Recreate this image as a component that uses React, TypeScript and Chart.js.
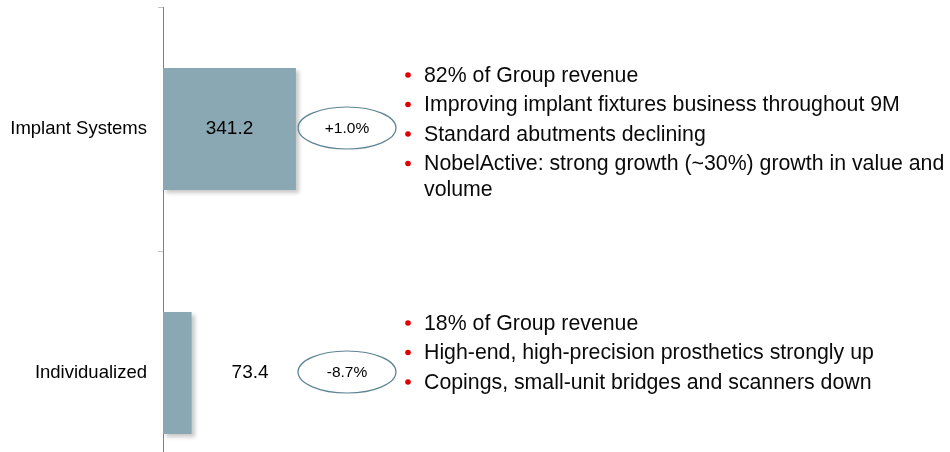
import React, { useEffect, useRef } from "react";
import { Chart, registerables } from "chart.js";

Chart.register(...registerables);

const categories = ["Implant Systems", "Individualized"];
const revenue = [341.2, 73.4];
const changeLabels = ["+1.0%", "-8.7%"];
const bulletsImplant = [
  "82% of Group revenue",
  "Improving implant fixtures business throughout 9M",
  "Standard abutments declining",
  "NobelActive: strong growth (~30%) growth in value and\nvolume",
];
const bulletsIndividualized = [
  "18% of Group revenue",
  "High-end, high-precision prosthetics strongly up",
  "Copings, small-unit bridges and scanners down",
];
const bulletGroups = [bulletsImplant, bulletsIndividualized];

const FONT = "'Liberation Sans', Arial, Helvetica, sans-serif";

const annotationPlugin = {
  id: "annotations",
  beforeDatasetsDraw(chart: any) {
    const ctx = chart.ctx;
    ctx.save();
    ctx.shadowColor = "rgba(0,0,0,0.22)";
    ctx.shadowBlur = 4;
    ctx.shadowOffsetX = 3;
    ctx.shadowOffsetY = 3;
  },
  afterDatasetsDraw(chart: any) {
    const ctx = chart.ctx;
    ctx.restore();
    const meta = chart.getDatasetMeta(0);
    const yScale = chart.scales.y;
    ctx.save();
    // value labels
    ctx.font = `19px ${FONT}`;
    ctx.fillStyle = "#000";
    ctx.textBaseline = "middle";
    meta.data.forEach((bar: any, i: number) => {
      const txt = revenue[i].toFixed(1);
      const w = ctx.measureText(txt).width;
      const barW = bar.x - bar.base;
      ctx.textAlign = "left";
      if (barW > w + 20) {
        ctx.fillText(txt, (bar.x + bar.base) / 2 - w / 2, bar.y);
      } else {
        ctx.fillText(txt, bar.x + 40, bar.y);
      }
    });
    // ellipses with change labels
    categories.forEach((_, i) => {
      const cy = yScale.getPixelForValue(i) - 1;
      const cx = 347;
      ctx.beginPath();
      ctx.ellipse(cx, cy, 49, 21, 0, 0, Math.PI * 2);
      ctx.strokeStyle = "#5f8594";
      ctx.lineWidth = 1.2;
      ctx.stroke();
      ctx.font = `15.5px ${FONT}`;
      ctx.fillStyle = "#000";
      ctx.textAlign = "center";
      ctx.textBaseline = "middle";
      ctx.fillText(changeLabels[i], cx, cy + 1);
    });
    // bullet lists
    const startOffsets = [-53, -49];
    bulletGroups.forEach((lines, i) => {
      const cy = yScale.getPixelForValue(i);
      let y = cy + startOffsets[i];
      ctx.font = `21.3px ${FONT}`;
      ctx.textAlign = "left";
      ctx.textBaseline = "middle";
      lines.forEach((line) => {
        ctx.fillStyle = "#e00000";
        ctx.beginPath();
        ctx.arc(408, y - 1, 2.8, 0, Math.PI * 2);
        ctx.fill();
        ctx.fillStyle = "#0a0a0a";
        const parts = line.split("\n");
        parts.forEach((p, k) => {
          ctx.fillText(p, 424, y);
          if (k < parts.length - 1) y += 26;
        });
        y += 29.5;
      });
    });
    ctx.restore();
  },
};

export default function App() {
  const ref = useRef<HTMLCanvasElement>(null);
  useEffect(() => {
    if (!ref.current) return;
    const chart = new Chart(ref.current, {
      type: "bar",
      data: {
        labels: categories,
        datasets: [
          {
            data: revenue,
            backgroundColor: "#8aa8b3",
            borderWidth: 0,
            categoryPercentage: 0.5,
            barPercentage: 1,
          },
        ],
      },
      options: {
        indexAxis: "y",
        animation: false,
        responsive: false,
        devicePixelRatio: 1,
        layout: { padding: { top: 7, bottom: 5, left: 0, right: 0 } },
        plugins: { legend: { display: false }, tooltip: { enabled: false } },
        scales: {
          x: { display: false, min: 0, max: 2020 },
          y: {
            afterFit(scale: any) {
              scale.width = 163;
              scale.paddingTop = 0;
              scale.paddingBottom = 0;
            },
            border: { display: true, color: "#7f7f7f", width: 1 },
            grid: {
              display: true,
              drawOnChartArea: false,
              drawTicks: true,
              tickLength: 5,
              color: "#c4c4c4",
              offset: true,
            },
            ticks: {
              color: "#000",
              padding: 11,
              font: { size: 18.5, family: FONT },
            },
          },
        },
      },
      plugins: [annotationPlugin],
    });
    return () => chart.destroy();
  }, []);
  return (
    <div
      style={{
        position: "absolute",
        left: 0,
        top: 0,
        width: 950,
        height: 452,
        overflow: "hidden",
        background: "#fff",
      }}
    >
      <canvas ref={ref} width={950} height={500} style={{ display: "block" }} />
    </div>
  );
}
